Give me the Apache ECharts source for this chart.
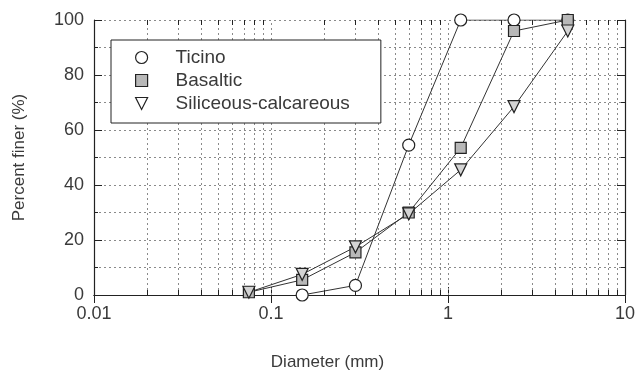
<!DOCTYPE html>
<html>
<head>
<meta charset="utf-8">
<script src="https://cdn.jsdelivr.net/npm/echarts@6/dist/echarts.min.js"></script>
<style>
	html, body { margin: 0; padding: 0; background: #fff; }
	#chart { width: 640px; height: 376px; }
</style>
</head>
<body>
<div id="chart"></div>
<script>
// sieve sizes (mm) and percent passing
var sieveSizes = [0.075, 0.15, 0.3, 0.6, 1.18, 2.36, 4.75];
var ticinoPct = [null, 0, 3.5, 54.5, 100, 100, 100];
var basalticPct = [1, 5.5, 15.5, 30, 53.5, 96, 100];
var siliceousPct = [1, 7.5, 17.5, 29.5, 45.5, 68.5, 96];
var seriesNames = ['Ticino', 'Basaltic', 'Siliceous-calcareous'];
// log minor grid positions
var minorX = [0.02, 0.03, 0.04, 0.05, 0.06, 0.07, 0.08, 0.09,
	0.2, 0.3, 0.4, 0.5, 0.6, 0.7, 0.8, 0.9,
	2, 3, 4, 5, 6, 7, 8, 9];

var FONT = '"Liberation Sans", Arial, sans-serif';
var INK = '#222';
var TXT = '#3a3a3a';
var GRIDC = '#8a8a8a';

function toPairs(xs, ys){
	var out = [];
	for(var i = 0; i < xs.length; i++){
		if(ys[i] !== null){
			out.push([xs[i], ys[i]]);
		}
	}
	return out;
}

var chart = echarts.init(document.getElementById('chart'));

function lineSeries(name, data, symbol, size, fill){
	return {
		name: name,
		type: 'line',
		xAxisIndex: 0,
		yAxisIndex: 0,
		data: data,
		symbol: symbol,
		symbolSize: size,
		showAllSymbol: true,
		lineStyle: { color: '#333', width: 1 },
		itemStyle: { color: fill, borderColor: INK, borderWidth: 1.2 },
		emphasis: { disabled: true },
		z: 5
	};
}

var xAxisBase = {
	type: 'log',
	logBase: 10,
	min: 0.01,
	max: 10,
	axisLine: { show: true, lineStyle: { color: INK, width: 1.2 } },
	axisTick: { show: true, inside: true, length: 8, lineStyle: { color: INK } },
	splitLine: { show: false }
};

var option = {
	animation: false,
	backgroundColor: '#fff',
	grid: { left: 94, right: 15, top: 20, bottom: 79 },
	legend: {
		orient: 'vertical',
		left: 111,
		top: 40,
		padding: [8, 31, 10, 24],
		itemGap: 4,
		itemWidth: 12,
		itemHeight: 12,
		borderColor: INK,
		borderWidth: 1,
		backgroundColor: '#fff',
		selectedMode: false,
		textStyle: { fontFamily: FONT, fontSize: 19, color: TXT, padding: [0, 0, 0, 23] },
		data: [
			{ name: seriesNames[0], icon: 'circle', itemStyle: { color: '#fff', borderColor: INK, borderWidth: 1.2 } },
			{ name: seriesNames[1], icon: 'rect', itemStyle: { color: '#b8b8b8', borderColor: INK, borderWidth: 1.2 } },
			{ name: seriesNames[2], icon: 'path://M0,0 L10,0 L5,10 Z', itemStyle: { color: '#fff', borderColor: INK, borderWidth: 1.2 } }
		]
	},
	xAxis: [
		Object.assign({}, xAxisBase, {
			position: 'bottom',
			name: 'Diameter (mm)',
			nameLocation: 'middle',
			nameGap: 59,
			nameTextStyle: { fontFamily: FONT, fontSize: 17, color: TXT, padding: [0, 64, 0, 0] },
			axisLabel: { fontFamily: FONT, fontSize: 18, color: TXT, margin: 10 }
		}),
		Object.assign({}, xAxisBase, {
			position: 'top',
			axisLabel: { show: false }
		})
	],
	yAxis: [
		{
			type: 'value',
			min: 0,
			max: 100,
			interval: 20,
			position: 'left',
			name: 'Percent finer (%)',
			nameLocation: 'middle',
			nameGap: 66,
			nameTextStyle: { fontFamily: FONT, fontSize: 17, color: TXT },
			axisLine: { show: true, lineStyle: { color: INK, width: 1.2 } },
			axisTick: { show: true, inside: true, length: 8, lineStyle: { color: INK } },
			minorTick: { show: true, splitNumber: 2, length: 4, lineStyle: { color: INK } },
			axisLabel: { fontFamily: FONT, fontSize: 18, color: TXT, margin: 10 },
			splitLine: { show: true, lineStyle: { color: GRIDC, width: 1, type: [2, 3] } },
			minorSplitLine: { show: true, lineStyle: { color: GRIDC, width: 1, type: [2, 3] } }
		},
		{
			type: 'value',
			min: 0,
			max: 100,
			interval: 20,
			position: 'right',
			axisLine: { show: true, lineStyle: { color: INK, width: 1.2 } },
			axisTick: { show: true, inside: true, length: 8, lineStyle: { color: INK } },
			minorTick: { show: true, splitNumber: 2, length: 4, lineStyle: { color: INK } },
			axisLabel: { show: false },
			splitLine: { show: false }
		}
	],
	series: [
		{
			// log-decade minor grid + ticks
			type: 'custom',
			xAxisIndex: 0,
			yAxisIndex: 0,
			silent: true,
			z: 1,
			data: minorX.map(function(v){ return [v, 0]; }),
			renderItem: function(params, api){
				var x = api.value(0);
				var b = api.coord([x, 0]);
				var t = api.coord([x, 100]);
				var px = Math.round(b[0]) + 0.5;
				return {
					type: 'group',
					children: [
						{ type: 'line', shape: { x1: px, y1: b[1], x2: px, y2: t[1] },
							style: { stroke: GRIDC, lineWidth: 1, lineDash: [2, 3] } },
						{ type: 'line', shape: { x1: px, y1: b[1], x2: px, y2: b[1] - 5 },
							style: { stroke: INK, lineWidth: 1 } },
						{ type: 'line', shape: { x1: px, y1: t[1], x2: px, y2: t[1] + 5 },
							style: { stroke: INK, lineWidth: 1 } }
					]
				};
			}
		},
		{
			// dotted split lines at the decades
			type: 'custom',
			xAxisIndex: 0,
			yAxisIndex: 0,
			silent: true,
			z: 1,
			data: [[0.1, 0], [1, 0]],
			renderItem: function(params, api){
				var x = api.value(0);
				var b = api.coord([x, 0]);
				var t = api.coord([x, 100]);
				var px = Math.round(b[0]) + 0.5;
				return { type: 'line', shape: { x1: px, y1: b[1], x2: px, y2: t[1] },
					style: { stroke: GRIDC, lineWidth: 1, lineDash: [2, 3] } };
			}
		},
		lineSeries(seriesNames[0], toPairs(sieveSizes, ticinoPct), 'circle', 12, '#fff'),
		lineSeries(seriesNames[1], toPairs(sieveSizes, basalticPct), 'rect', 11, '#b8b8b8'),
		lineSeries(seriesNames[2], toPairs(sieveSizes, siliceousPct), 'path://M0,0 L10,0 L5,10 Z', 12, '#d4d4d4')
	]
};
chart.setOption(option);
</script>
</body>
</html>
